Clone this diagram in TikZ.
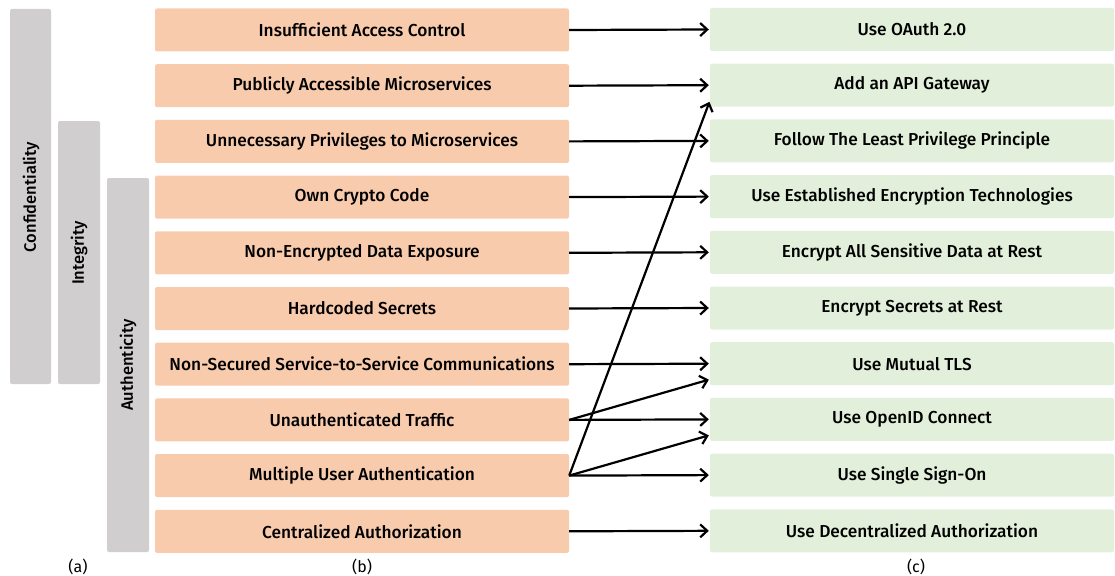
\documentclass[tikz,border=0pt]{standalone}
\usepackage{fontspec}
\setmainfont{Fira Sans}[BoldFont={Fira Sans Medium}]
\usetikzlibrary{arrows.meta,calc}
\definecolor{threat}{HTML}{F8CBAD}
\definecolor{remedy}{HTML}{E2EFDA}
\definecolor{prop}{HTML}{D0CECE}
\begin{document}
\begin{tikzpicture}[x=1pt,y=-1pt,
  threatbox/.style={fill=threat,rounded corners=2pt,minimum width=414pt,minimum height=43pt,inner sep=0pt,font=\fontsize{17.3}{19}\selectfont\bfseries},
  remedybox/.style={fill=remedy,rounded corners=2pt,minimum width=404pt,minimum height=43pt,inner sep=0pt,font=\fontsize{17.3}{19}\selectfont\bfseries},
  propbar/.style={fill=prop,rounded corners=2pt},
  proplabel/.style={rotate=90,font=\fontsize{16.5}{19}\selectfont\bfseries},
  sublabel/.style={font=\fontsize{16}{18}\selectfont},
  link/.style={-{Straight Barb[length=7pt,width=13pt,line width=2.2pt]},line width=2.2pt,shorten >=1pt}]
\useasboundingbox (0,0) rectangle (1115,575);
% property bars
\fill[propbar] (10,9) rectangle (51,384);
\fill[propbar] (58,121) rectangle (100,384);
\fill[propbar] (107,178) rectangle (149,552);
\node[proplabel] (conf) at (31,197) {Confidentiality};
\node[proplabel] (integ) at (79,253) {Integrity};
\node[proplabel] (auth) at (128,365) {Authenticity};
% threats
\foreach \i/\t in {1/Insufficient Access Control,
  2/Publicly Accessible Microservices,
  3/Unnecessary Privileges to Microservices,
  4/Own Crypto Code,
  5/Non-Encrypted Data Exposure,
  6/Hardcoded Secrets,
  7/Non-Secured Service-to-Service Communications,
  8/Unauthenticated Traffic,
  9/Multiple User Authentication,
  10/Centralized Authorization}
  \node[threatbox] (t\i) at (362,{30+55.7*(\i-1)}) {\t};
% remedies
\foreach \i/\t in {1/Use OAuth 2.0,
  2/Add an API Gateway,
  3/Follow The Least Privilege Principle,
  4/Use Established Encryption Technologies,
  5/Encrypt All Sensitive Data at Rest,
  6/Encrypt Secrets at Rest,
  7/Use Mutual TLS,
  8/Use OpenID Connect,
  9/Use Single Sign-On,
  10/Use Decentralized Authorization}
  \node[remedybox] (r\i) at (912,{29.5+55.7*(\i-1)}) {\t};
% one-to-one links
\foreach \i in {1,...,10}
  \draw[link] (t\i.east) -- (r\i.west);
% extra links
\draw[link] (t8.east) -- ($(r7.south west)+(0,-6)$);
\draw[link] (t9.east) -- ($(r8.south west)+(0,-6)$);
\draw[link] (t9.east) -- ($(r2.south west)+(0,-6)$);
% panel labels
\node[sublabel] (la) at (78,567) {(a)};
\node[sublabel] (lb) at (362,567) {(b)};
\node[sublabel] (lc) at (916,567) {(c)};
\end{tikzpicture}
\end{document}
